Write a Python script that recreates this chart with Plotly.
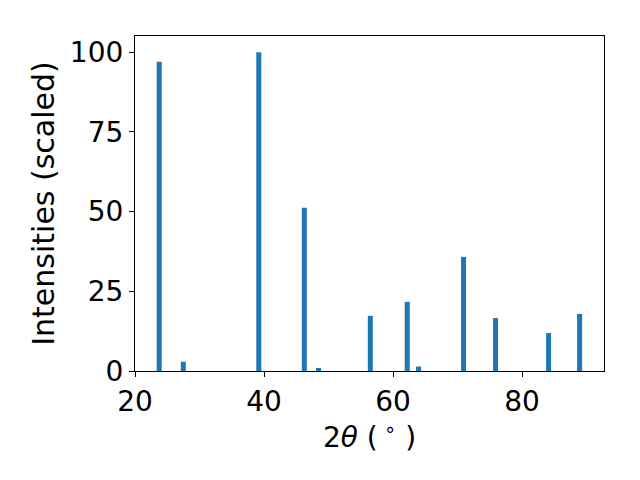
import plotly.graph_objects as go

two_theta = [23.75, 27.49, 39.19, 46.25, 48.45, 56.48, 62.20, 63.95, 70.93, 75.89, 84.11, 88.92]
intensity = [97.0, 2.9, 100.0, 51.2, 0.95, 17.3, 21.7, 1.4, 35.8, 16.6, 11.9, 17.9]
bar_width = 0.78
x_ticks = [20, 40, 60, 80]
y_ticks = [0, 25, 50, 75, 100]

fig = go.Figure(go.Bar(x=two_theta, y=intensity, width=bar_width,
                       marker=dict(color="#1f77b4", line=dict(width=0))))

axis_common = dict(showline=True, linecolor="black", linewidth=1.25, mirror=True,
                   ticks="outside", ticklen=5, tickwidth=1.25, tickcolor="black",
                   showgrid=False, zeroline=False, automargin=False,
                   tickfont=dict(family="DejaVu Sans", size=28, color="black"))

fig.update_layout(
    width=640, height=480,
    margin=dict(l=135, r=36, t=36, b=109),
    plot_bgcolor="white", paper_bgcolor="white",
    showlegend=False,
    xaxis=dict(range=[20, 92.7], tickvals=x_ticks,
               title=dict(text="2<i>θ</i> (<sup> ∘</sup> )", standoff=0,
                          font=dict(family="DejaVu Sans", size=28, color="black")),
               **axis_common),
    yaxis=dict(range=[0, 105.1], tickvals=y_ticks,
               title=dict(text="Intensities (scaled)", standoff=6,
                          font=dict(family="DejaVu Sans", size=30, color="black")),
               **axis_common),
)

fig.write_html("out.html", config={"displayModeBar": False},
               post_script="document.body.style.margin='0';")
